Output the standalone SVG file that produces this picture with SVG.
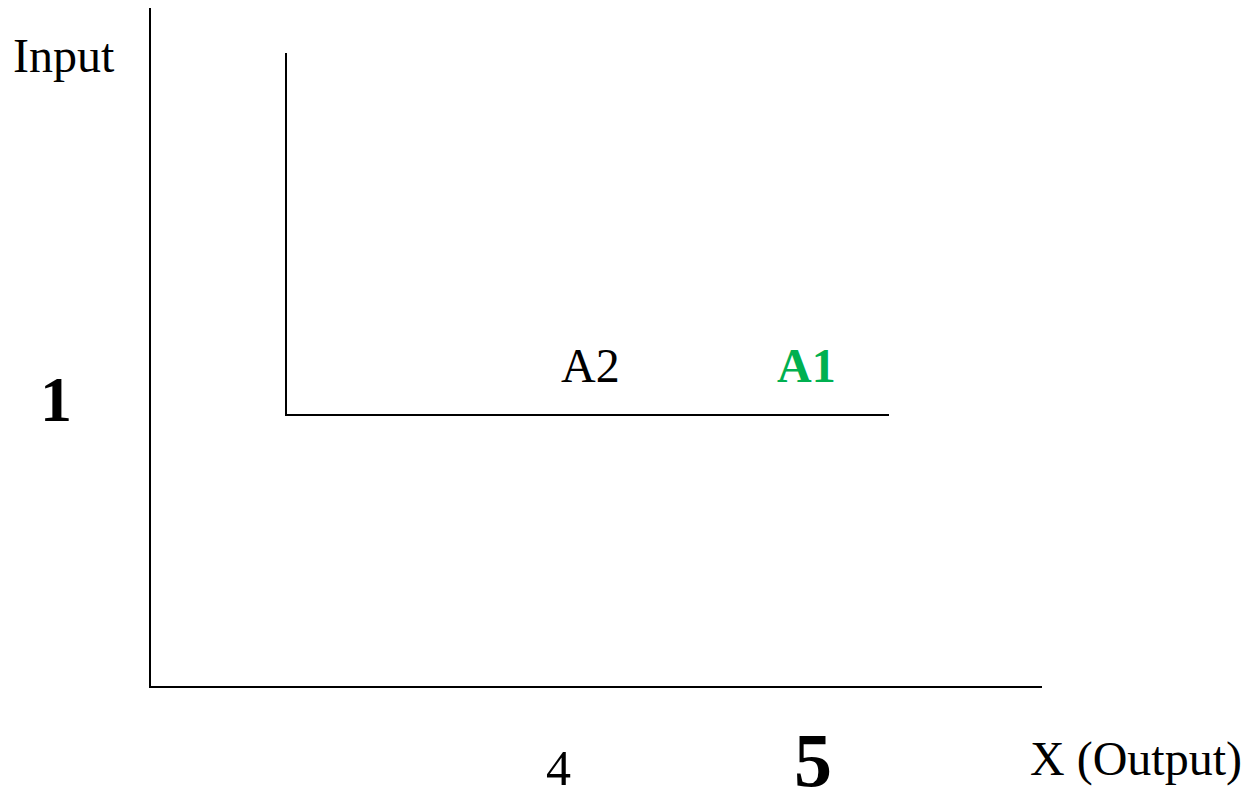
<svg xmlns="http://www.w3.org/2000/svg" width="1248" height="788" viewBox="0 0 1248 788">
<style>
.ln{stroke:#000;stroke-width:2;fill:none}
.t{font-family:"Liberation Serif","Times New Roman",serif;fill:#000}
.b{font-weight:bold}
</style>
<rect width="1248" height="788" fill="#fff"/>
<g id="connectors">
<path class="ln" d="M150,8 V687 H1042"/>
<path class="ln" d="M286,53 V415 H889"/>
</g>
<g id="label-input"><text class="t" x="13" y="72" font-size="48">Input</text></g>
<g id="label-1"><text class="t b" x="40" y="421" font-size="64">1</text></g>
<g id="label-a2"><text class="t" x="561" y="382" font-size="48">A2</text></g>
<g id="label-a1"><text class="t b" x="777" y="382" font-size="48" style="fill:#00b050">A1</text></g>
<g id="label-4"><text class="t" x="546" y="785" font-size="50">4</text></g>
<g id="label-5"><text class="t b" x="794" y="786" font-size="76">5</text></g>
<g id="label-x"><text class="t" x="1030" y="775" font-size="48">X (Output)</text></g>
</svg>
